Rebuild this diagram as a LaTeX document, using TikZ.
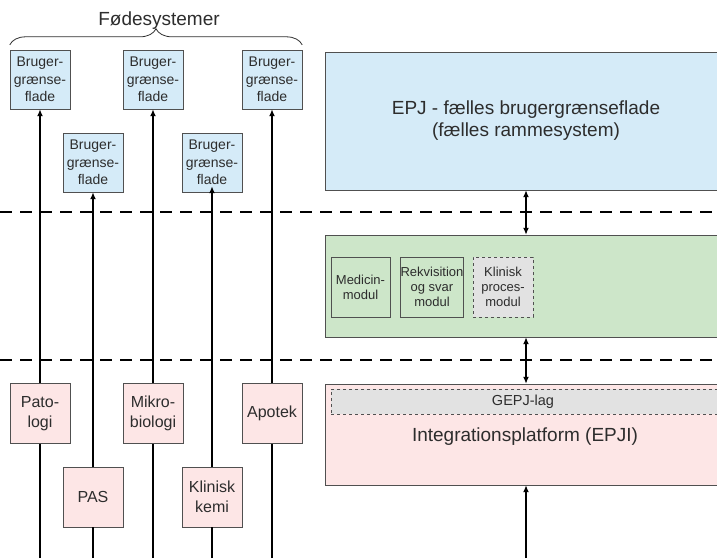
\documentclass[tikz,border=0pt]{standalone}
\usepackage{fontspec}
\setmainfont{Liberation Sans}
\usetikzlibrary{arrows.meta,decorations.pathreplacing}

\definecolor{uiblue}{RGB}{213,235,248}
\definecolor{modgreen}{RGB}{205,230,201}
\definecolor{intpink}{RGB}{253,230,230}
\definecolor{laggray}{RGB}{226,226,226}
\definecolor{txtgray}{RGB}{45,45,45}
\definecolor{rimgray}{RGB}{80,80,80}

\tikzset{
  uibox/.style={draw=rimgray, fill=uiblue, text=txtgray, minimum width=60pt, minimum height=59pt,
    inner sep=0pt, align=center, font=\fontsize{14}{17.5}\selectfont},
  sysbox/.style={draw=rimgray, fill=intpink, text=txtgray, minimum width=60pt, minimum height=60pt,
    inner sep=0pt, align=center, font=\fontsize{16}{20}\selectfont},
  layer/.style={draw=rimgray, minimum width=402pt, inner sep=0pt, text=txtgray, align=center,
    font=\fontsize{19}{22}\selectfont},
  modbox/.style={draw=rimgray, fill=modgreen, text=txtgray, minimum width=60pt, minimum height=60pt,
    inner sep=0pt, align=center, font=\fontsize{13}{15}\selectfont},
  feed/.style={line width=1.8pt, -{Latex[length=7pt,width=6pt]}},
  link/.style={line width=1.8pt, {Latex[length=7pt,width=6pt]}-{Latex[length=7pt,width=6pt]}},
  sep/.style={line width=2.4pt, dash pattern=on 12pt off 8pt},
}

\begin{document}
\begin{tikzpicture}[x=1pt, y=-1pt]
\useasboundingbox (0,0) rectangle (717,558);
\fill[white] (0,0) rectangle (717,558);
\clip (0,0) rectangle (717,558);

% feeder systems, user interfaces
\node[uibox] (ui1) at (40,79.5) {Bruger-\\grænse-\\flade};
\node[uibox] (ui2) at (93,162.5) {Bruger-\\grænse-\\flade};
\node[uibox] (ui3) at (153,79.5) {Bruger-\\grænse-\\flade};
\node[uibox] (ui4) at (212,162.5) {Bruger-\\grænse-\\flade};
\node[uibox] (ui5) at (272,79.5) {Bruger-\\grænse-\\flade};
\draw[rimgray!60!black, line width=0.8pt, decorate, decoration={brace, amplitude=16pt}]
  ([yshift=5pt]ui1.north west) -- ([yshift=5pt]ui5.north east);
\node[text=txtgray, font=\fontsize{19}{22}\selectfont] (foede) at (159,21) {Fødesystemer};

% separators
\draw[sep] (0,212) -- (717,212);
\draw[sep] (0,360) -- (717,360);

% feeder systems
\node[sysbox] (pato) at (40,413.5) {Pato-\\logi};
\node[sysbox] (pas) at (93,497) {PAS};
\node[sysbox] (mikro) at (153,413.5) {Mikro-\\biologi};
\node[sysbox] (klin) at (212,497) {Klinisk\\kemi};
\node[sysbox] (apotek) at (272,413.5) {Apotek};

\coordinate (b1) at (40,558);
\coordinate (b2) at (93,558);
\coordinate (b3) at (153,558);
\coordinate (b4) at (212,558);
\coordinate (b5) at (272,558);
\draw[line width=1.8pt] (b1) -- (pato);
\draw[line width=1.8pt] (b2) -- (pas);
\draw[line width=1.8pt] (b3) -- (mikro);
\draw[line width=1.8pt] (b4) -- (klin);
\draw[line width=1.8pt] (b5) -- (apotek);
\draw[feed] (pato) -- (ui1);
\draw[feed] (pas) -- (ui2);
\draw[feed] (mikro) -- (ui3);
\draw[feed, shorten >=-6pt] (klin) -- (ui4);
\draw[feed] (apotek) -- (ui5);

% EPJ layers
\node[layer, fill=uiblue, minimum height=138pt] (epj) at (526,121)
  {EPJ - fælles brugergrænseflade\\(fælles rammesystem)};
\node[layer, fill=modgreen, minimum height=102pt] (modul) at (526,286) {};
\node[modbox, minimum width=59pt] (medicin) at (360.5,287) {Medicin-\\modul};
\node[modbox] (rekv) at (432,287) {Rekvisition\\og svar\\modul};
\node[modbox, fill=laggray, dashed] (proces) at (503,287) {Klinisk\\proces-\\modul};
\node[layer, fill=intpink, minimum height=101pt] (epji) at (526,434.5) {};
\node[draw=rimgray, dashed, fill=laggray, text=txtgray, minimum width=400pt, minimum height=25pt,
  inner sep=0pt, font=\fontsize{14.5}{17}\selectfont] (gepj) at (531,401.5) {\hspace{-16pt}GEPJ-lag};
\node[text=txtgray, font=\fontsize{19}{22}\selectfont] (epjitxt) at (525,437) {Integrationsplatform (EPJI)};

\draw[link] (epj) -- (modul);
\draw[link] (modul) -- (epji);
\coordinate (b6) at (526,558);
\draw[feed] (b6) -- (epji);
\end{tikzpicture}
\end{document}
